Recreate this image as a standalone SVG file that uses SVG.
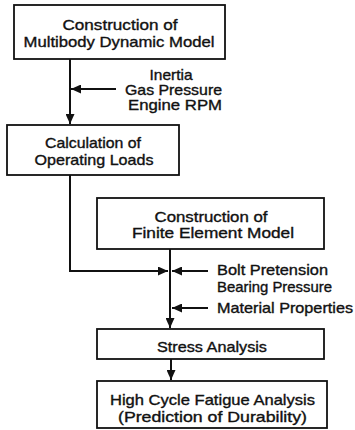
<svg xmlns="http://www.w3.org/2000/svg" width="355" height="430" viewBox="0 0 355 430">
<style>
.box{fill:#fff;stroke:#111;stroke-width:1.8}
.t{font-family:"Liberation Sans",Arial,sans-serif;font-size:14.5px;fill:#111;stroke:#111;stroke-width:0.35;text-anchor:middle}
.l{font-family:"Liberation Sans",Arial,sans-serif;font-size:14.5px;fill:#111;stroke:#111;stroke-width:0.35}
.c{fill:none;stroke:#111;stroke-width:2}
</style>
<defs>
<marker id="ah" markerUnits="userSpaceOnUse" markerWidth="11" markerHeight="9" refX="10" refY="4.5" orient="auto">
<path d="M0,0 L10,4.5 L0,9 z" fill="#111"/>
</marker>
</defs>
<rect width="355" height="430" fill="#fff"/>
<g id="connectors">
<path class="c" d="M70,59 V124" marker-end="url(#ah)"/>
<path class="c" d="M116,89 H71" marker-end="url(#ah)"/>
<path class="c" d="M70,175 V271 H168" marker-end="url(#ah)"/>
<path class="c" d="M170,249 V328" marker-end="url(#ah)"/>
<path class="c" d="M208,271 H172" marker-end="url(#ah)"/>
<path class="c" d="M208,308 H172" marker-end="url(#ah)"/>
<path class="c" d="M171,359 V380" marker-end="url(#ah)"/>
</g>
<g id="n1">
<rect class="box" x="14" y="5" width="211" height="54"/>
<text class="t" x="120" y="30" textLength="115" lengthAdjust="spacingAndGlyphs">Construction of</text>
<text class="t" x="119" y="47" textLength="191" lengthAdjust="spacingAndGlyphs">Multibody Dynamic Model</text>
</g>
<g id="lbl1">
<text class="t" x="171" y="80" textLength="43" lengthAdjust="spacingAndGlyphs">Inertia</text>
<text class="t" x="173.5" y="95" textLength="97" lengthAdjust="spacingAndGlyphs">Gas Pressure</text>
<text class="t" x="175" y="110" textLength="94" lengthAdjust="spacingAndGlyphs">Engine RPM</text>
</g>
<g id="n2">
<rect class="box" x="7" y="125" width="172" height="50"/>
<text class="t" x="93" y="148" textLength="96" lengthAdjust="spacingAndGlyphs">Calculation of</text>
<text class="t" x="94" y="165" textLength="119" lengthAdjust="spacingAndGlyphs">Operating Loads</text>
</g>
<g id="n3">
<rect class="box" x="97" y="198" width="227" height="51"/>
<text class="t" x="211" y="222" textLength="113" lengthAdjust="spacingAndGlyphs">Construction of</text>
<text class="t" x="213" y="238" textLength="162" lengthAdjust="spacingAndGlyphs">Finite Element Model</text>
</g>
<g id="lbl2">
<text class="l" x="217" y="275" textLength="111" lengthAdjust="spacingAndGlyphs">Bolt Pretension</text>
<text class="l" x="217" y="292" textLength="115" lengthAdjust="spacingAndGlyphs">Bearing Pressure</text>
<text class="l" x="217" y="313" textLength="136" lengthAdjust="spacingAndGlyphs">Material Properties</text>
</g>
<g id="n4">
<rect class="box" x="97" y="329" width="227" height="30"/>
<text class="t" x="212" y="352" textLength="110" lengthAdjust="spacingAndGlyphs">Stress Analysis</text>
</g>
<g id="n5">
<rect class="box" x="97" y="381" width="230" height="47"/>
<text class="t" x="212.5" y="405" textLength="205" lengthAdjust="spacingAndGlyphs">High Cycle Fatigue Analysis</text>
<text class="t" x="212.5" y="422" textLength="189" lengthAdjust="spacingAndGlyphs">(Prediction of Durability)</text>
</g>
</svg>
